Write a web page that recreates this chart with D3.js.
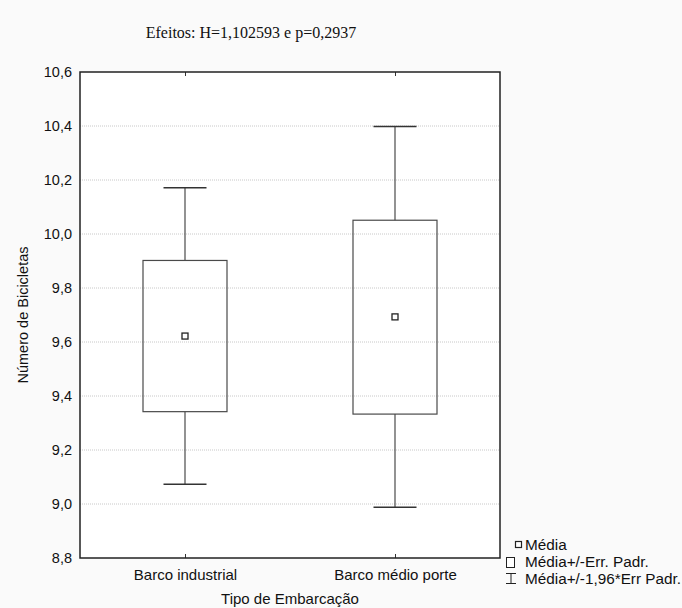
<!DOCTYPE html>
<html><head><meta charset="utf-8">
<script src="https://cdn.jsdelivr.net/npm/d3@7"></script>
<style>body{margin:0;background:#fafafa;}svg{display:block;}</style>
</head><body>
<svg id="c" width="682" height="608"></svg>
<script>
const categories = ["Barco industrial", "Barco médio porte"];
const means = [9.622, 9.693];
const boxLow = [9.342, 9.333];
const boxHigh = [9.902, 10.051];
const whiskerLow = [9.073, 8.988];
const whiskerHigh = [10.171, 10.398];
const yTicks = [8.8, 9.0, 9.2, 9.4, 9.6, 9.8, 10.0, 10.2, 10.4, 10.6];
const title = "Efeitos: H=1,102593 e p=0,2937";
const xTitle = "Tipo de Embarcação";
const yTitle = "Número de Bicicletas";
const legendItems = ["Média", "Média+/-Err. Padr.", "Média+/-1,96*Err Padr."];

const SANS = "Liberation Sans, Arial, sans-serif";
const svg = d3.select("#c");
const L = 80, R = 500, T = 72, B = 558;
const x = d3.scalePoint().domain(categories).range([L, R]).padding(0.5);
const y = d3.scaleLinear().domain([8.8, 10.6]).range([B, T]);
const fmt = v => d3.format(".1f")(v).replace(".", ",");

svg.append("rect").attr("x", L).attr("y", T).attr("width", R - L).attr("height", B - T).attr("fill", "#fff");

// grid
svg.append("g").selectAll("line").data(yTicks.slice(1, -1)).join("line")
  .attr("x1", L).attr("x2", R).attr("y1", d => y(d)).attr("y2", d => y(d))
  .attr("stroke", "#c8c8c8").attr("stroke-width", 1).attr("stroke-dasharray", "1,1");

// y axis
const ya = svg.append("g").attr("transform", `translate(${L},0)`)
  .call(d3.axisLeft(y).tickValues(yTicks).tickFormat(fmt).tickSize(0).tickPadding(8));
ya.select(".domain").remove();
ya.selectAll("text").attr("font-family", SANS).attr("font-size", 14.5).attr("fill", "#111");

// x axis labels
const xa = svg.append("g").attr("transform", `translate(0,${B})`)
  .call(d3.axisBottom(x).tickSize(-4).tickPadding(11));
xa.select(".domain").remove();
xa.selectAll("line").attr("stroke", "#333");
xa.selectAll("text").attr("font-family", SANS).attr("font-size", 15).attr("fill", "#111");
const xt = svg.append("g").attr("transform", `translate(0,${T})`)
  .call(d3.axisTop(x).tickSize(-4).tickFormat(""));
xt.select(".domain").remove();
xt.selectAll("line").attr("stroke", "#333");

// boxes
const bw = 84, cw = 43;
const g = svg.append("g").selectAll("g").data(categories).join("g");
g.append("line").attr("x1", d => x(d)).attr("x2", d => x(d))
  .attr("y1", (d, i) => y(whiskerHigh[i])).attr("y2", (d, i) => y(boxHigh[i]))
  .attr("stroke", "#4a4a4a").attr("stroke-width", 1.2);
g.append("line").attr("x1", d => x(d)).attr("x2", d => x(d))
  .attr("y1", (d, i) => y(boxLow[i])).attr("y2", (d, i) => y(whiskerLow[i]))
  .attr("stroke", "#4a4a4a").attr("stroke-width", 1.2);
g.append("line").attr("x1", d => x(d) - cw / 2).attr("x2", d => x(d) + cw / 2)
  .attr("y1", (d, i) => y(whiskerHigh[i])).attr("y2", (d, i) => y(whiskerHigh[i]))
  .attr("stroke", "#333").attr("stroke-width", 1.5);
g.append("line").attr("x1", d => x(d) - cw / 2).attr("x2", d => x(d) + cw / 2)
  .attr("y1", (d, i) => y(whiskerLow[i])).attr("y2", (d, i) => y(whiskerLow[i]))
  .attr("stroke", "#333").attr("stroke-width", 1.5);
g.append("rect").attr("x", d => x(d) - bw / 2).attr("width", bw)
  .attr("y", (d, i) => y(boxHigh[i])).attr("height", (d, i) => y(boxLow[i]) - y(boxHigh[i]))
  .attr("fill", "none").attr("stroke", "#4a4a4a").attr("stroke-width", 1.2);
g.append("rect").attr("x", d => x(d) - 3).attr("width", 6)
  .attr("y", (d, i) => y(means[i]) - 3).attr("height", 6)
  .attr("fill", "#fff").attr("stroke", "#222").attr("stroke-width", 1.3);

// frame
svg.append("rect").attr("x", L).attr("y", T).attr("width", R - L).attr("height", B - T)
  .attr("fill", "none").attr("stroke", "#222").attr("stroke-width", 1.5);

// titles
svg.append("text").attr("x", 251).attr("y", 38).attr("text-anchor", "middle")
  .attr("font-family", "Liberation Serif, Times New Roman, serif").attr("font-size", 16).attr("fill", "#111").text(title);
svg.append("text").attr("x", 290).attr("y", 604).attr("text-anchor", "middle")
  .attr("font-family", SANS).attr("font-size", 15).attr("fill", "#111").text(xTitle);
svg.append("text").attr("transform", `translate(28,${(T + B) / 2}) rotate(-90)`).attr("text-anchor", "middle")
  .attr("font-family", SANS).attr("font-size", 14.5).attr("fill", "#111").text(yTitle);

// legend
const lg = svg.append("g").attr("transform", "translate(506,545)");
lg.append("rect").attr("x", 9.5).attr("y", -3.5).attr("width", 6).attr("height", 6).attr("fill", "#fff").attr("stroke", "#222").attr("stroke-width", 1.2);
lg.append("rect").attr("x", 0.5).attr("y", 12.5).attr("width", 8).attr("height", 10).attr("fill", "#fff").attr("stroke", "#222").attr("stroke-width", 1);
lg.append("path").attr("d", "M0,28.5H10M5,28.5V38.5M0,38.5H10").attr("fill", "none").attr("stroke", "#222").attr("stroke-width", 1);
lg.selectAll("text.l").data(legendItems).join("text").attr("class", "l")
  .attr("x", 19).attr("y", (d, i) => i * 17 + 5)
  .attr("font-family", SANS).attr("font-size", 15.3).attr("fill", "#111").text(d => d);
</script>
</body></html>
